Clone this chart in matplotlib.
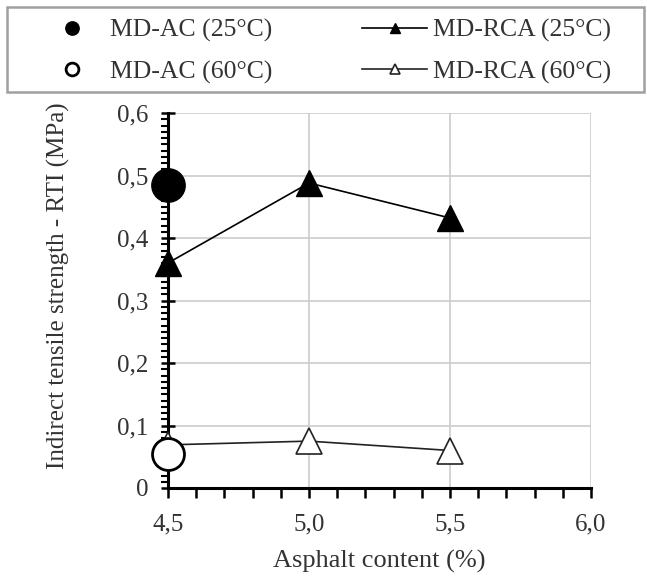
import matplotlib.pyplot as plt
from matplotlib.patches import Rectangle
import numpy as np

# data
asphalt = [4.5, 5.0, 5.5]
rca_25 = [0.36, 0.488, 0.432]
rca_60 = [0.069, 0.075, 0.06]
ac_x = [4.5]
ac_25 = [0.485]
ac_60 = [0.055]

x_ticks = [4.5, 5.0, 5.5, 6.0]
x_labels = ['4,5', '5,0', '5,5', '6,0']
y_ticks = [0, 0.1, 0.2, 0.3, 0.4, 0.5, 0.6]
y_labels = ['0', '0,1', '0,2', '0,3', '0,4', '0,5', '0,6']

plt.rcParams['font.family'] = ['Liberation Serif', 'DejaVu Serif']
txt = '#333333'

fig = plt.figure(figsize=(6.47, 5.78), dpi=100)
ax = fig.add_axes([168 / 647, 90 / 578, 423 / 647, 375 / 578])

h1, = ax.plot(ac_x, ac_25, 'o', color='black', markersize=24, clip_on=False, zorder=5)
h2, = ax.plot(asphalt, rca_25, '-^', color='black', lw=1.2, markersize=18.5,
              markerfacecolor='black', clip_on=False, zorder=4)
h3, = ax.plot(ac_x, ac_60, 'o', color='black', markersize=23, markerfacecolor='white',
              markeredgewidth=2, clip_on=False, zorder=5)
h4, = ax.plot(asphalt, rca_60, '-^', color='#222222', lw=1.2, markersize=18.5,
              markerfacecolor='white', markeredgewidth=1.2, clip_on=False, zorder=4)

ax.set_xlim(4.5, 6.0)
ax.set_ylim(0, 0.6)
ax.set_xticks(x_ticks)
ax.set_xticklabels(x_labels)
ax.set_yticks(y_ticks)
ax.set_yticklabels(y_labels)
ax.set_xticks(np.arange(4.5, 6.01, 0.1), minor=True)
ax.set_yticks(np.arange(0, 0.601, 0.01), minor=True)
ax.tick_params(axis='x', which='both', direction='out', length=7, width=1.8,
               color='black', labelsize=18, labelcolor=txt, pad=11)
ax.tick_params(axis='y', which='major', direction='inout', length=10, width=1.8,
               color='black', labelsize=18, labelcolor=txt, pad=9)
ax.tick_params(axis='y', which='minor', direction='out', length=5, width=1.5, color='black')
ax.grid(True, which='major', color='#cccccc', lw=1.2)
ax.set_axisbelow(True)

for s in ['top', 'right']:
    ax.spines[s].set_visible(False)
for s in ['left', 'bottom']:
    ax.spines[s].set_linewidth(2.2)

ax.set_xlabel('Asphalt content (%)', fontsize=19, color=txt)
ax.xaxis.set_label_coords(0.5, -0.165)
ax.set_ylabel('Indirect tensile strength - RTI (MPa)', fontsize=18, color=txt)
ax.yaxis.set_label_coords(-0.232, 0.54)

# legend box on top
fig.patches.append(Rectangle((7 / 647, 1 - 92 / 578), 637 / 647, 85 / 578,
                             transform=fig.transFigure, fill=False,
                             edgecolor='#a0a0a0', lw=1.8))
fig.legend([h1, h3, h2, h4],
           ['MD-AC (25°C)', 'MD-AC (60°C)', 'MD-RCA (25°C)', 'MD-RCA (60°C)'],
           loc='upper left', bbox_to_anchor=(39 / 647, 1 - 19 / 578), ncol=2,
           markerscale=0.4, fontsize=18.5, frameon=False, borderpad=0, borderaxespad=0,
           handlelength=2.53, handletextpad=0.23, columnspacing=3.5, labelspacing=0.7,
           labelcolor=txt)

fig.savefig('out.png', dpi=100)
